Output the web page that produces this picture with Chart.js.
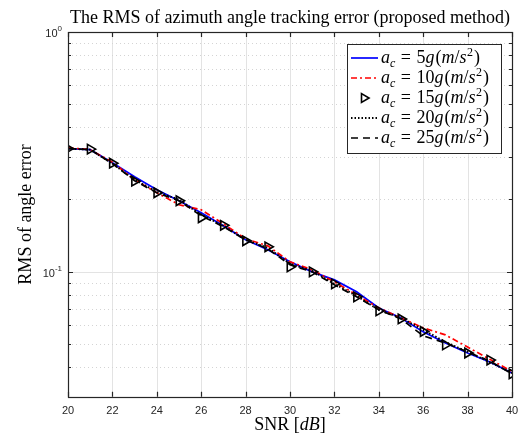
<!DOCTYPE html>
<html><head><meta charset="utf-8">
<script src="https://cdn.jsdelivr.net/npm/chart.js@4"></script>
<style>html,body{margin:0;padding:0;background:#fff}</style>
</head><body>
<canvas id="c" width="521" height="438"></canvas>
<script>
const snr = [20,21,22,23,24,25,26,27,28,29,30,31,32,33,34,35,36,37,38,39,40];
const rms5g  = [0.326,0.3227,0.2847,0.2488,0.2195,0.1975,0.1760,0.1553,0.1357,0.1232,0.1098,0.0997,0.0923,0.0823,0.0705,0.0640,0.0560,0.0503,0.0457,0.0419,0.0377];
const rms10g = [0.3287,0.3227,0.2862,0.2417,0.2133,0.1901,0.1811,0.1583,0.1370,0.1280,0.1098,0.1016,0.0906,0.0799,0.0705,0.0640,0.0582,0.0544,0.0484,0.0430,0.0383];
const rms15g = [0.3258,0.3243,0.2833,0.2383,0.2133,0.1975,0.1677,0.1560,0.1344,0.1268,0.1046,0.0997,0.0888,0.0784,0.0685,0.0634,0.0562,0.0494,0.0457,0.0427,0.0374];
const rms20g = [0.326,0.3227,0.2825,0.2417,0.2154,0.1994,0.1726,0.1553,0.1357,0.1256,0.1077,0.1007,0.0888,0.0791,0.0692,0.0640,0.0571,0.0508,0.0462,0.0419,0.0377];
const rms25g = [0.326,0.3227,0.2825,0.2394,0.2133,0.1975,0.1709,0.1538,0.1357,0.1244,0.1067,0.0997,0.0880,0.0784,0.0692,0.0634,0.0539,0.0503,0.0462,0.0423,0.0374];
const xTicks = [20,22,24,26,28,30,32,34,36,38,40];
const yMajorTicks = [1, 0.1];
const yMajorExp = ['0', '-1'];
const yMinorTicks = [0.03,0.04,0.05,0.06,0.07,0.08,0.09,0.2,0.3,0.4,0.5,0.6,0.7,0.8,0.9];
const accelLabels = ['5','10','15','20','25'];
const titleText = 'The RMS of azimuth angle tracking error (proposed method)';
const yTitle = 'RMS of angle error';

const pts = arr => snr.map((x,i)=>({x:x, y:arr[i]}));
const AX = '#262626';
const SERIF = '"Liberation Serif", "DejaVu Serif", serif';
const SANS = '"Liberation Sans", Arial, sans-serif';

const styles = [
  {color:'#0000ff', dash:[], width:1.7, tri:false},
  {color:'#ff0000', dash:[6,3,2,3], width:1.7, tri:false},
  {color:'#000000', dash:[], width:1.6, tri:true},
  {color:'#000000', dash:[1.5,2], width:2, tri:false},
  {color:'#000000', dash:[7,5], width:1.7, tri:false}
];

function mathLabel(ctx, x, y, num){
  const F=18, S=12;
  const parts = [
    ['a','italic',F,0,0],['c','italic',S,4,0],['=','normal',F,0,5.5],[num,'normal',F,0,5.5],['g','italic',F,0,0],
    ['(','normal',F,0,1],['m','italic',F,0,0],['/','normal',F,0,0],['s','italic',F,0,0],['2','normal',S,-7,0.5],[')','normal',F,0,1]
  ];
  ctx.textAlign='left'; ctx.textBaseline='alphabetic'; ctx.fillStyle='#000';
  let cx = x;
  for (const [t,st,sz,dy,gap] of parts){
    cx += gap;
    ctx.font = st+' '+sz+'px '+SERIF;
    ctx.fillText(t, cx, y+dy);
    cx += ctx.measureText(t).width;
  }
}

const decor = {
  id:'decor',
  beforeDatasetsDraw(chart){
    const {ctx, chartArea:a, scales:{x,y}} = chart;
    ctx.save();
    ctx.lineWidth=1;
    ctx.strokeStyle='#e3e3e3';
    for (const v of xTicks){ const px=Math.round(x.getPixelForValue(v))+0.5;
      ctx.beginPath(); ctx.moveTo(px,a.top); ctx.lineTo(px,a.bottom); ctx.stroke(); }
    for (const v of yMajorTicks){ const py=Math.round(y.getPixelForValue(v))+0.5;
      ctx.beginPath(); ctx.moveTo(a.left,py); ctx.lineTo(a.right,py); ctx.stroke(); }
    ctx.strokeStyle='#d4d4d4'; ctx.setLineDash([1,3]);
    for (const v of yMinorTicks){ const py=Math.round(y.getPixelForValue(v))+0.5;
      ctx.beginPath(); ctx.moveTo(a.left,py); ctx.lineTo(a.right,py); ctx.stroke(); }
    ctx.restore();
  },
  afterDatasetsDraw(chart){
    const {ctx, chartArea:a, scales:{x,y}} = chart;
    ctx.save();
    ctx.strokeStyle=AX; ctx.lineWidth=1.2; ctx.setLineDash([]);
    for (const v of xTicks){ const px=Math.round(x.getPixelForValue(v))+0.5;
      ctx.beginPath(); ctx.moveTo(px,a.bottom); ctx.lineTo(px,a.bottom-5);
      ctx.moveTo(px,a.top); ctx.lineTo(px,a.top+5); ctx.stroke(); }
    for (const v of yMajorTicks){ const py=Math.round(y.getPixelForValue(v))+0.5;
      ctx.beginPath(); ctx.moveTo(a.left,py); ctx.lineTo(a.left+5,py);
      ctx.moveTo(a.right,py); ctx.lineTo(a.right-5,py); ctx.stroke(); }
    for (const v of yMinorTicks){ const py=Math.round(y.getPixelForValue(v))+0.5;
      ctx.beginPath(); ctx.moveTo(a.left,py); ctx.lineTo(a.left+3,py);
      ctx.moveTo(a.right,py); ctx.lineTo(a.right-3,py); ctx.stroke(); }
    ctx.strokeRect(Math.round(a.left)+0.5, Math.round(a.top)+0.5, Math.round(a.right-a.left), Math.round(a.bottom-a.top));
    ctx.fillStyle=AX;
    yMajorTicks.forEach((v,i)=>{
      const py=y.getPixelForValue(v);
      ctx.font='8px '+SANS; ctx.textAlign='right'; ctx.textBaseline='alphabetic';
      const ew=ctx.measureText(yMajorExp[i]).width;
      ctx.fillText(yMajorExp[i], a.left-6, py-1);
      ctx.font='11px '+SANS;
      ctx.fillText('10', a.left-6-ew, py+5);
    });
    ctx.fillStyle='#000'; ctx.textAlign='center'; ctx.textBaseline='alphabetic';
    ctx.font='18px '+SERIF;
    ctx.fillText(titleText, (a.left+a.right)/2, 23);
    const xt=[['SNR [','normal'],['dB','italic'],[']','normal']];
    let tw=0; for(const [t,s] of xt){ ctx.font=s+' 18px '+SERIF; tw+=ctx.measureText(t).width; }
    let cx=(a.left+a.right)/2 - tw/2; ctx.textAlign='left';
    for(const [t,s] of xt){ ctx.font=s+' 18px '+SERIF; ctx.fillText(t,cx,430); cx+=ctx.measureText(t).width; }
    ctx.save(); ctx.translate(31,(a.top+a.bottom)/2); ctx.rotate(-Math.PI/2);
    ctx.textAlign='center'; ctx.font='18px '+SERIF; ctx.fillText(yTitle,0,0); ctx.restore();
    const L={x:347,y:44,w:154,h:109};
    ctx.fillStyle='#fff'; ctx.fillRect(L.x,L.y,L.w,L.h);
    ctx.strokeStyle=AX; ctx.lineWidth=1; ctx.strokeRect(L.x+0.5,L.y+0.5,L.w,L.h);
    styles.forEach((s,i)=>{
      const cy=L.y+14+i*20;
      if(s.tri){
        ctx.save(); ctx.strokeStyle=s.color; ctx.fillStyle='rgba(0,0,0,0)'; ctx.lineWidth=s.width;
        Chart.helpers.drawPoint(ctx,{pointStyle:'triangle',rotation:90,radius:5,borderWidth:s.width},364,cy);
        ctx.restore();
      } else {
        ctx.save(); ctx.strokeStyle=s.color; ctx.lineWidth=s.width; ctx.setLineDash(s.dash);
        ctx.beginPath(); ctx.moveTo(351,cy); ctx.lineTo(378,cy); ctx.stroke(); ctx.restore();
      }
      mathLabel(ctx,381,cy+5,accelLabels[i]);
    });
    ctx.restore();
  }
};

const ds = [rms5g,rms10g,rms15g,rms20g,rms25g].map((arr,i)=>{
  const s=styles[i];
  return {
    label: 'a_c = '+accelLabels[i]+'g(m/s^2)',
    data: pts(arr),
    borderColor: s.color, backgroundColor:'rgba(0,0,0,0)',
    borderWidth: s.width, borderDash: s.dash,
    showLine: !s.tri, tension:0,
    pointRadius: s.tri?5.5:0, pointStyle:'triangle', rotation:90,
    pointBorderWidth: s.width, pointBorderColor: s.color, pointBackgroundColor:'rgba(0,0,0,0)',
    order: 5-i
  };
});

new Chart(document.getElementById('c'), {
  type:'line',
  data:{datasets:ds},
  options:{
    responsive:false, animation:false, devicePixelRatio:1,
    layout:{padding:{left:68,top:32,right:9,bottom:12}},
    plugins:{legend:{display:false}, tooltip:{enabled:false}, title:{display:false}},
    scales:{
      x:{type:'linear', min:20, max:40,
        afterBuildTicks: sc=>{ sc.ticks = xTicks.map(v=>({value:v})); },
        afterFit: sc=>{ sc.paddingRight = 0; sc.paddingLeft = 0; },
        ticks:{color:AX, font:{family:SANS,size:11}, padding:8, maxRotation:0, autoSkip:false},
        grid:{display:false, drawTicks:false}, border:{display:false}},
      y:{type:'logarithmic', min:0.03, max:1,
        ticks:{display:false},
        grid:{display:false, drawTicks:false}, border:{display:false}}
    }
  },
  plugins:[decor]
});
</script>
</body></html>
